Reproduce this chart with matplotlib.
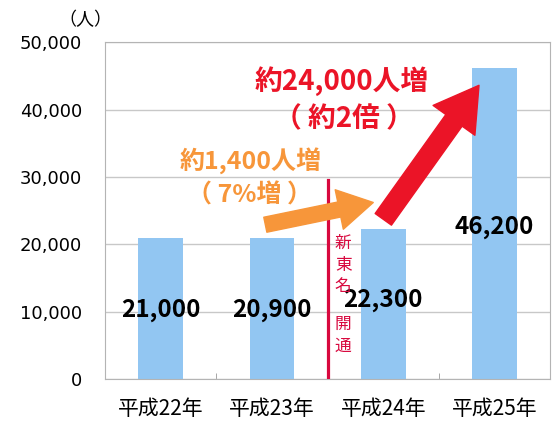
import matplotlib
matplotlib.use('Agg')
import matplotlib.pyplot as plt
from matplotlib.patches import FancyArrowPatch

plt.rcParams['font.family'] = ['Noto Sans CJK JP', 'DejaVu Sans']

# data
years = ['平成22年', '平成23年', '平成24年', '平成25年']
visitors = [21000, 20900, 22300, 46200]
value_labels = ['21,000', '20,900', '22,300', '46,200']
label_y = [10200, 10200, 11700, 22500]
yticks = [0, 10000, 20000, 30000, 40000, 50000]
ytick_labels = ['0', '10,000', '20,000', '30,000', '40,000', '50,000']

bar_color = '#92c6f2'
red = '#eb1427'
orange = '#f7963a'
line_red = '#d8083e'

fig = plt.figure(figsize=(5.53, 4.22), dpi=100)
ax = fig.add_axes([0.19, 0.102, 0.805, 0.798])

x = range(len(years))
ax.bar(x, visitors, width=0.4, color=bar_color, zorder=2)
ax.set_xlim(-0.5, 3.5)
ax.set_ylim(0, 50000)

ax.set_yticks(yticks)
ax.set_yticklabels(ytick_labels, fontsize=13, family=['DejaVu Sans'])
ax.tick_params(axis='y', length=0, pad=16.5)
ax.set_xticks(list(x))
ax.set_xticklabels(years, fontsize=15)
ax.tick_params(axis='x', length=0, pad=14)
ax.set_xticks([0.5, 1.5, 2.5], minor=True)
ax.tick_params(axis='x', which='minor', direction='in', length=4, color='#999999')

ax.grid(axis='y', color='#c8c8c8', linewidth=1, zorder=0)
for s in ax.spines.values():
    s.set_color('#b4b4b4')

# value labels
for i, (lab, ly) in enumerate(zip(value_labels, label_y)):
    ax.text(i, ly, lab, ha='center', va='center', fontsize=17.5, fontweight='bold', zorder=5)

# 新東名 opening line
ax.plot([1.5, 1.5], [0, 29600], color=line_red, linewidth=2.3, zorder=4)
ax.text(1.64, 16900, '新\n東\n名', color=line_red, fontsize=12, ha='center', va='center',
        linespacing=1.35, zorder=5)
ax.text(1.64, 6500, '開\n通', color=line_red, fontsize=12, ha='center', va='center',
        linespacing=1.35, zorder=5)

# arrows
ax.add_patch(FancyArrowPatch((0.94, 22900), (1.91, 26200),
                             arrowstyle='simple,head_width=1.45,head_length=1.25,tail_width=0.55',
                             mutation_scale=20, color=orange, shrinkA=0, shrinkB=0, zorder=6))
ax.add_patch(FancyArrowPatch((2.0, 23700), (2.86, 43600),
                             arrowstyle='simple,head_width=1.85,head_length=1.55,tail_width=0.72',
                             mutation_scale=20, color=red, shrinkA=0, shrinkB=0, zorder=6))

# annotation texts
ax.text(1.63, 44200, '約24,000人増', color=red, fontsize=20, fontweight='bold',
        ha='center', va='center', zorder=7)
ax.text(1.65, 38600, '（ 約2倍 ）', color=red, fontsize=20, fontweight='bold',
        ha='center', va='center', zorder=7)
ax.text(0.81, 32500, '約1,400人増', color=orange, fontsize=18, fontweight='bold',
        ha='center', va='center', zorder=7)
ax.text(0.80, 27300, '（ 7%増 ）', color=orange, fontsize=18, fontweight='bold',
        ha='center', va='center', zorder=7)

fig.text(0.155, 0.953, '（人）', fontsize=13, ha='center', va='center')

fig.savefig('out.png', dpi=100)
